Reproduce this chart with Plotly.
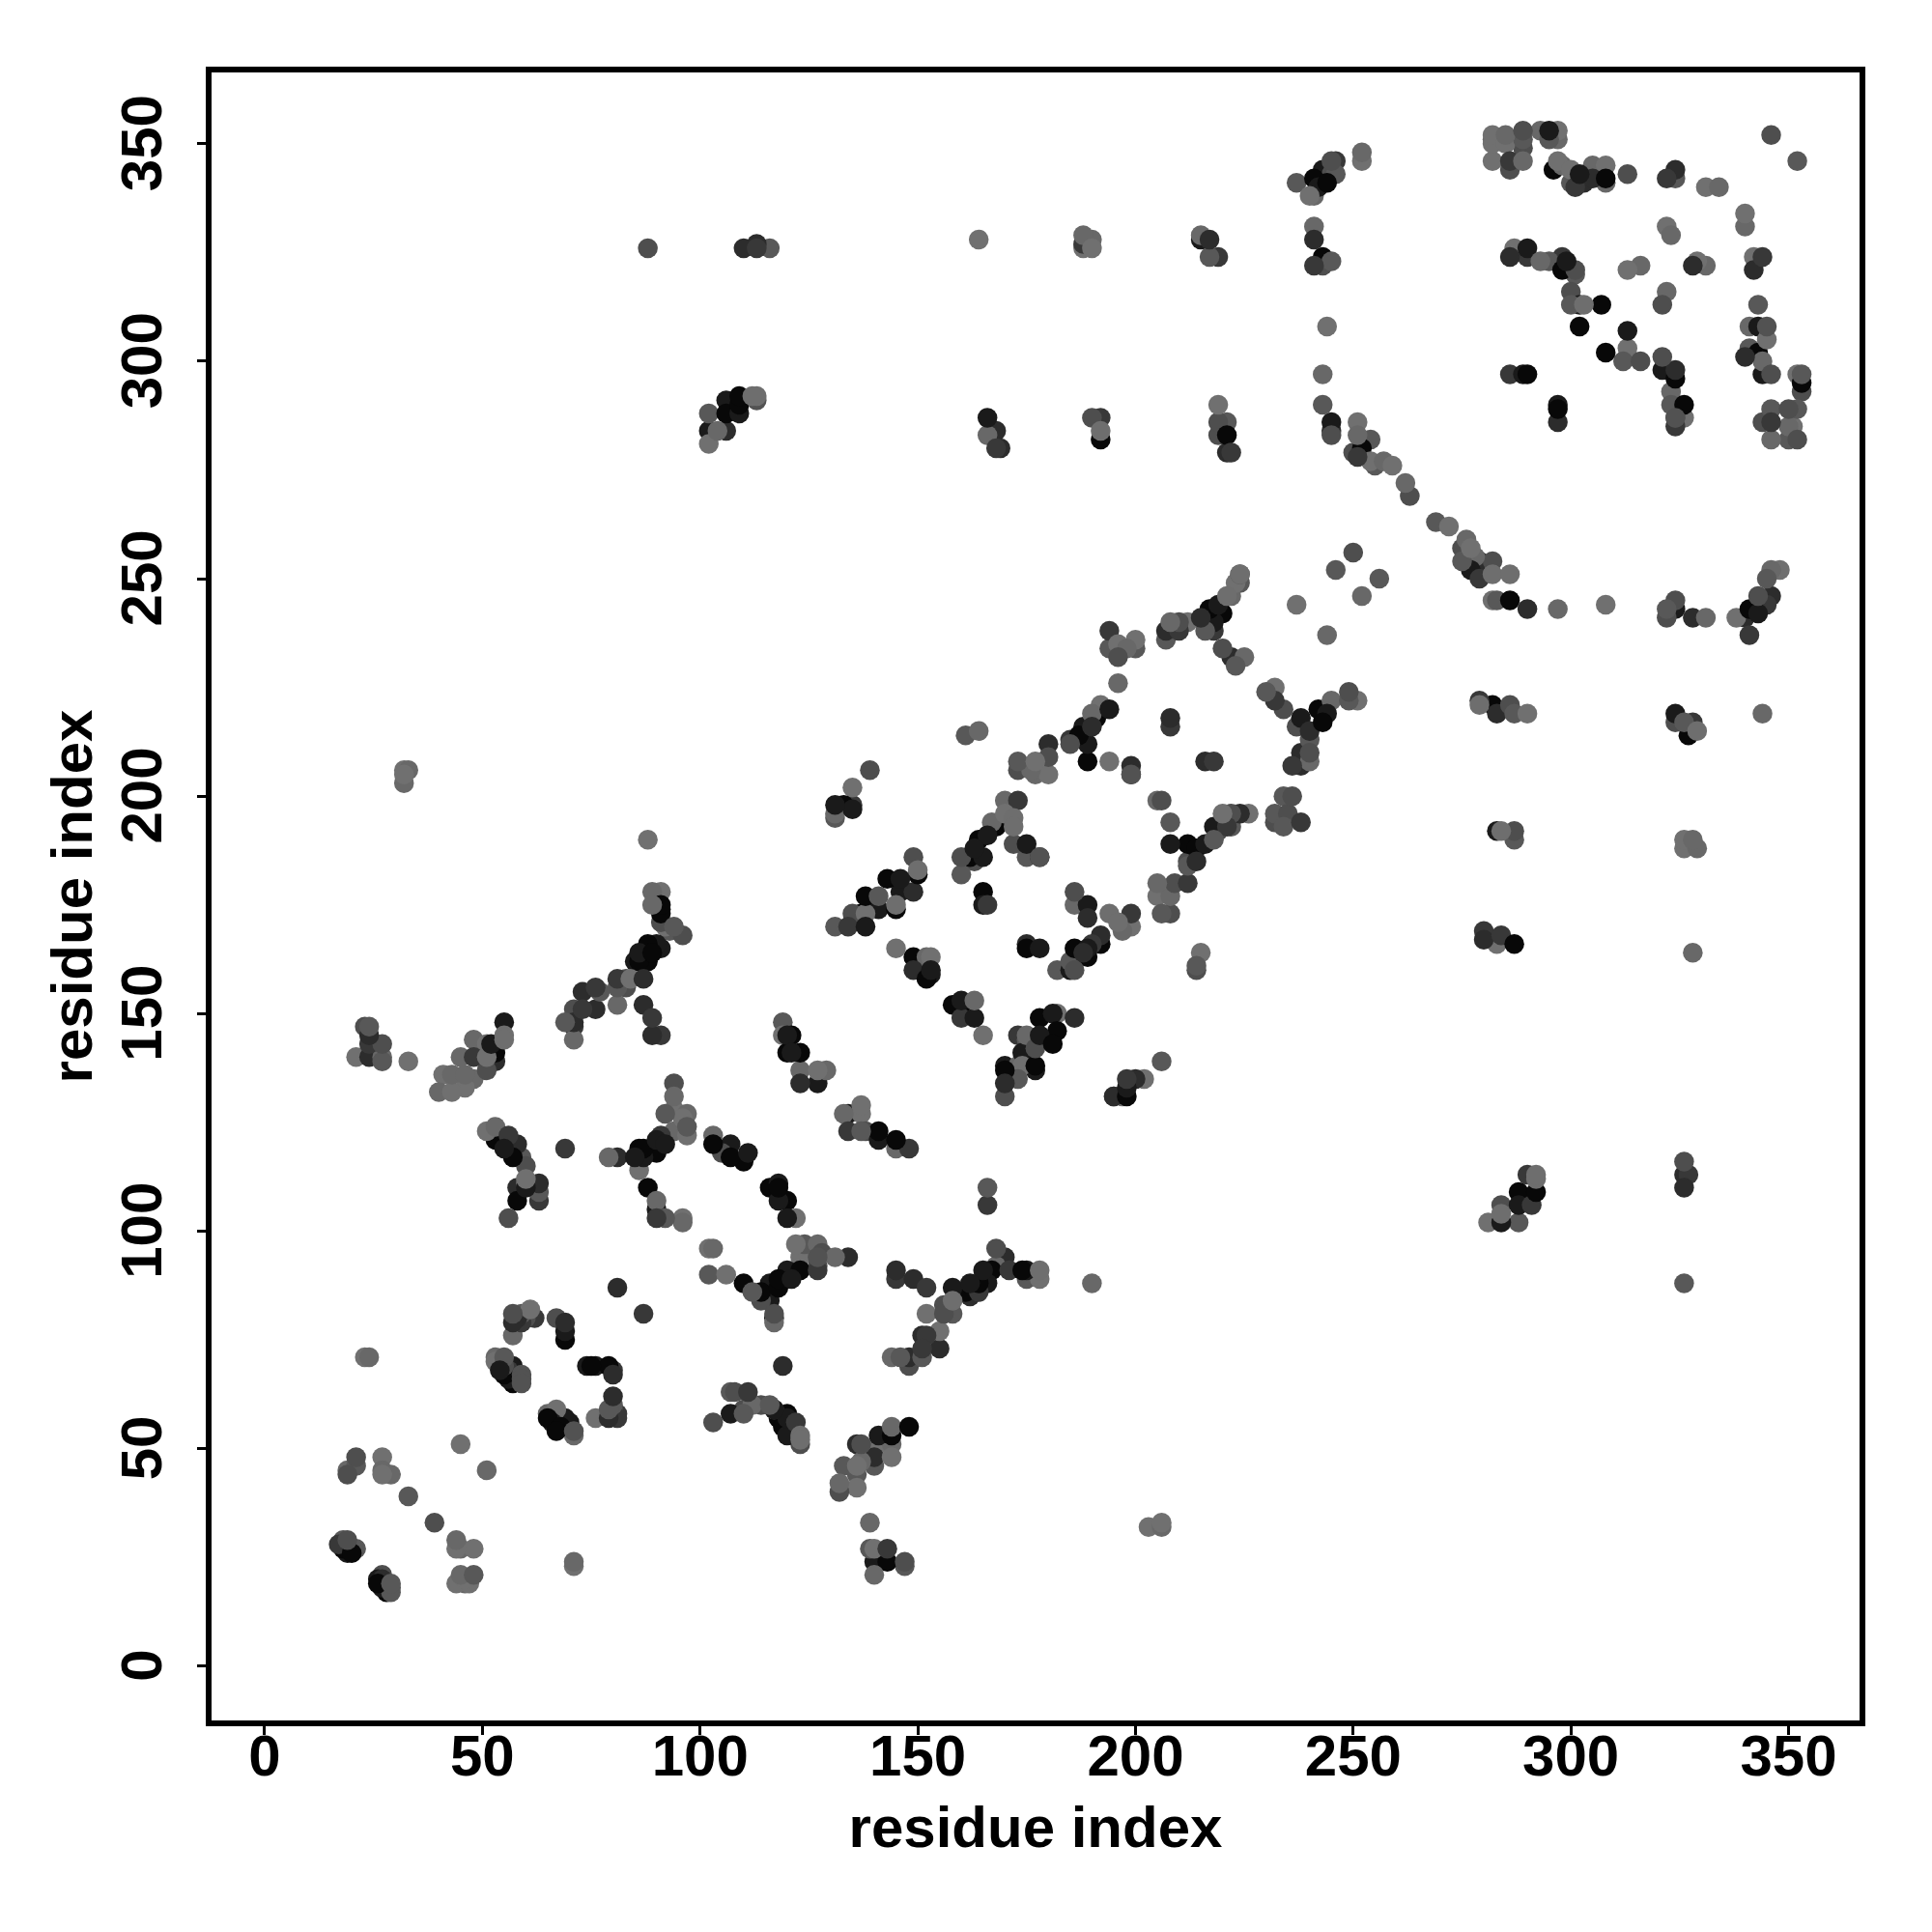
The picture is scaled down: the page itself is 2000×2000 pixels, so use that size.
import plotly.graph_objects as go

axis_title = "residue index"
tick_values = [0, 50, 100, 150, 200, 250, 300, 350]

light_contacts = [
(71,23),(71,24),(44,19),(45,21),(46,20),(46,19),(47,19),(44,29),(44,27),(45,27),(48,27),(51,45),(45,51),(19,45),(27,48),(27,45),(27,44),(29,44),(23,71),(24,71),(76,57),(57,76),(61,82),(53,71),(53,70),(65,58),(67,59),(71,53),(60,111),(90,107),(96,103),(96,102),(102,96),(103,96),(106,90),(112,60),
(32,206),(33,206),(32,205),(32,203),(88,190),(89,178),(91,178),(89,175),(92,170),(81,152),(84,158),(71,144),(21,140),(27,140),(33,139),(48,144),(51,143),(45,140),(51,140),(46,136),(41,136),(43,136),(46,133),(40,132),(43,132),(48,135),(51,123),(53,124),(60,112),(79,117),(86,114),(94,123),(97,122),(97,127),(94,128),(94,131),(96,126),(103,122),(119,145),
(123,137),(127,137),(129,137),(137,129),(133,127),(137,127),(145,119),(202,135),(197,131),(122,103),(117,79),(122,97),(127,97),(123,94),(131,94),(152,81),(144,71),(178,89),(190,88),(117,59),(144,55),(141,51),(144,51),(144,48),(137,47),(136,46),(132,42),(136,41),(139,33),(140,27),(140,21),(203,32),(206,32),(206,33),(173,138),(155,77),(168,92),
(135,202),(131,196),(138,173),(164,215),(177,208),(177,205),(180,205),(176,206),(196,235),(198,234),(200,236),(196,226),(192,221),(190,219),(194,208),(208,240),(212,240),(222,246),(223,249),(205,199),(220,196),(205,180),(205,177),(208,177),(215,164),(186,175),(199,170),(197,169),(145,165),(152,163),(153,163),(163,153),(165,145),(170,199),(170,196),(167,194),(182,150),(175,145),(174,138),
(252,348),(252,346),(241,338),(240,338),(241,331),(244,308),(243,297),(251,286),(251,283),(254,277),(257,277),(259,276),(262,272),(272,262),(276,259),(277,257),(278,255),(282,245),(297,243),(308,244),(331,241),(338,241),(346,252),(348,252),(252,246),(237,244),(244,237),(282,352),(282,351),(282,350),(285,352),(285,350),(293,353),(297,353),(297,351),(282,346),(289,346),(297,346),(298,345),(300,344),(305,345),(308,345),(308,341),(331,340),(334,340),(340,334),(340,331),(322,331),(323,329),(287,326),(293,323),(313,321),(316,322),(329,323),(331,322),(342,324),(322,316),(313,303),(323,293),(326,287),(341,308),(345,305),(344,300),(352,297),(346,282),(351,285),(350,285),
(290,219),(344,219),(326,190),(328,190),(326,188),(329,188),(283,166),(328,164),(232,225),(245,222),(251,222),(240,208),(226,196),(225,232),
(164,328),(188,329),(188,326),(190,328),(190,326),(215,329),(219,290),(166,283),(102,281),(104,284),(281,102),
]

mid_contacts = [
(21,46),(19,44),(18,29),(19,29),(21,27),(27,21),(29,19),(29,18),(29,17),(39,33),(33,39),(21,48),(48,21),(57,81),(59,81),(60,80),(55,71),(55,69),(79,59),(80,59),(80,60),(67,80),(63,109),(56,103),(92,103),(103,56),(110,58),(110,59),(107,63),(108,63),(102,90),
(91,171),(94,170),(96,168),(93,169),(83,158),(81,156),(83,156),(77,155),(71,151),(69,148),(27,143),(27,139),(51,137),(59,117),(60,115),(92,127),(105,118),(97,124),(94,134),(119,148),(23,147),(24,147),
(138,123),(137,123),(195,131),(173,135),(170,131),(206,139),(117,81),(124,97),(128,95),(112,86),(114,84),(166,110),(156,83),(158,81),(156,81),(151,71),(168,96),(175,89),(123,51),(116,60),(114,60),(133,46),(132,40),(139,27),(147,24),(147,23),(148,69),(146,71),(127,92),(136,44),(137,51),(140,46),
(139,206),(131,195),(149,186),(141,177),(135,173),(131,170),(180,209),(173,208),(173,206),(194,234),(196,232),(200,234),(185,212),(207,236),(210,240),(216,238),(220,234),(223,230),(206,199),(208,194),(219,192),(218,190),(222,196),(222,193),(212,185),(212,184),(209,180),(206,173),(208,173),(214,161),(186,178),(185,162),(186,160),(182,160),(172,189),(175,186),(160,186),(160,182),(163,185),(161,214),(177,142),(175,144),(214,160),
(237,341),(245,346),(246,343),(245,343),(245,323),(243,322),(243,290),(245,283),(254,282),(250,279),(255,276),(263,269),(269,263),(275,257),(275,254),(282,254),(283,245),(324,245),(322,243),(322,241),(246,252),(250,256),(256,250),(289,353),(289,351),(289,349),(295,351),(286,344),(300,341),(313,343),(324,342),(321,313),(343,313),(300,316),(300,313),(316,300),(312,300),(321,301),(323,290),(324,287),(341,303),(346,297),(353,297),(353,293),(346,289),(350,289),(352,289),(344,286),(350,282),(352,282),(345,250),(343,246),(295,323),(301,321),(301,320),(346,352),(352,346),
(286,221),(287,219),(287,192),(287,190),(324,217),(326,217),(234,220),(230,224),(249,224),(249,222),(237,216),(240,213),(240,210),(234,200),(236,200),(232,196),(235,196),(234,193),(232,194),(224,249),
(88,326),(116,326),(219,286),(221,286),(219,283),(217,324),(190,287),(102,288),
(284,106),(288,102),(326,116),(326,88),
]

dark_contacts = [
(17,28),(80,62),(81,58),(79,57),(81,57),(80,67),(80,68),(57,79),(59,79),(58,80),(62,80),(69,79),(56,68),(63,111),(63,107),(58,110),(90,103),(81,87),(87,81),(119,69),(111,63),(27,20),(28,19),
(87,158),(81,158),(87,152),(89,149),(89,145),(91,145),(73,155),(76,156),(76,151),(73,151),(71,148),(71,147),(24,145),(24,143),(24,140),(48,140),(53,139),(56,122),(58,120),(69,119),(81,117),(91,122),(123,134),
(134,123),(170,134),(198,135),(200,135),(166,106),(145,91),(145,89),(149,89),(152,87),(162,85),(164,86),(170,94),(171,91),(151,76),(152,76),(155,73),(151,73),(148,71),(122,56),(140,48),(143,27),(134,94),(127,91),(136,51),(148,119),(195,131),
(135,198),(149,178),(134,170),(180,212),(194,238),(190,216),(185,213),(199,207),(199,205),(208,218),(208,216),(216,208),(218,208),(207,238),(210,238),(215,241),(218,238),(222,232),(212,180),(214,185),(221,193),(189,172),(199,173),(192,168),(190,166),(188,164),(166,175),(175,166),(160,149),(149,160),(173,145),(178,186),(173,199),(186,149),
(246,346),(241,328),(241,322),(245,284),(251,278),(279,254),(279,250),(324,344),(322,342),(328,241),(341,237),(340,241),(345,244),(346,246),(286,346),(303,341),(301,340),(305,342),(290,324),(286,324),(298,324),(328,322),(344,324),(342,321),(313,301),(324,298),(324,285),(297,286),(286,297),(340,301),(346,286),(290,243),
(279,222),(283,219),(328,217),(238,210),(236,207),(238,207),(232,222),(240,215),(238,194),(224,196),(280,169),(280,167),(284,168),
(217,328),(219,324),(168,284),(168,280),(169,280),(222,279),(221,279),(192,287),(106,284),(188,327),(113,327),(113,326),(110,326),
(291,106),(326,113),(327,113),(326,110),(290,113),
]

black_contacts = [
(18,27),(19,26),(20,26),(26,20),(26,19),(27,18),(28,17),(74,69),(75,69),(76,69),(79,69),(69,77),(69,75),(54,68),(55,67),(57,69),(57,65),(56,66),(65,57),(66,56),(67,54),(69,57),(68,55),(70,56),(58,107),(60,110),(88,110),(90,105),(110,88),(107,58),
(91,175),(91,174),(91,173),(90,166),(88,166),(86,164),(86,162),(85,162),(88,162),(91,165),(89,164),(55,148),(53,141),(52,143),(53,121),(55,119),(57,117),(85,117),(87,119),(90,121),(86,119),(87,117),(90,118),(92,120),(103,120),(107,120),(107,117),(111,118),(110,116),(120,145),(120,141),
(127,134),(170,137),(177,137),(198,131),(198,133),(116,110),(118,111),(118,110),(118,107),(120,107),(120,103),(117,80),(120,91),(118,89),(116,88),(114,86),(116,84),(118,87),(121,89),(123,91),(158,87),(161,86),(162,88),(164,88),(165,91),(167,91),(166,88),(174,91),(175,91),(120,58),(120,57),(118,57),(117,59),(119,55),(120,53),(148,55),(141,53),(144,53),(140,24),(143,24),(134,127),(141,123),(141,121),(145,121),
(131,198),(133,198),(135,197),(150,182),(146,181),(143,181),(146,178),(138,177),(141,174),(137,173),(138,170),(145,174),(188,216),(191,218),(194,220),(187,214),(189,212),(189,208),(208,189),(212,189),(216,189),(214,188),(218,193),(217,243),(219,244),(216,241),(218,240),(220,242),(189,175),(192,166),(189,165),(186,165),(186,163),(189,163),(185,160),(175,165),(178,165),(165,178),(165,175),(149,163),(153,160),(152,158),(153,159),(158,152),(160,153),(160,152),(163,149),(121,145),(121,141),(123,141),(175,189),(168,193),(166,191),(164,190),(165,186),(162,186),(163,188),(178,149),(181,150),(182,146),(178,145),(181,143),(174,141),(177,138),(170,138),
(241,342),(243,344),(244,341),(242,340),(243,324),(245,286),(252,280),(277,252),(286,245),(324,243),(341,243),(343,242),(296,344),(302,343),(308,342),(290,326),(298,321),(299,323),(307,313),(302,313),(302,308),(313,307),(308,302),(321,298),(324,296),(324,290),(326,290),(297,290),(297,289),(289,297),(290,297),(343,308),(343,302),(344,297),(353,295),(295,353),
(282,221),(324,219),(327,214),(283,192),(287,166),(238,218),(242,220),(244,219),(243,217),
(215,328),(221,283),(166,287),(192,282),(102,284),(106,288),(106,291),(109,292),(109,288),(109,290),
(284,102),(288,109),(288,106),(292,109),
]

# contacts whose discs sit on top of the darker ones
top_mid_contacts = [
(59,67),(59,66),(59,65),(71,54),(113,291),(127,94),(178,186),(345,308),(224,251),(199,205),(324,287),
]
top_light_contacts = [
(55,145),(55,144),(150,183),(145,175),(123,53),(123,52),(158,84),(178,91),(284,192),(113,292),(112,292),(292,112),(292,113),(329,215),(279,221),(172,195),(172,193),(194,173),(196,171),(221,246),(224,251),(303,313),(282,251),(286,251),(192,284),(284,104),
]

shade_pairs = {"light": (112, 104), "mid": (88, 78), "dark": (56, 44), "black": (8, 26)}

mixed = []
for name, pts in [("light", light_contacts), ("mid", mid_contacts), ("dark", dark_contacts), ("black", black_contacts)]:
    for i, (x, y) in enumerate(pts):
        mixed.append((x, y, shade_pairs[name][i % 2]))
# overlap order in the picture is not sorted by darkness: mix the layers
mixed.sort(key=lambda p: (p[0] * 37 + p[1] * 17) % 11)
mixed += [(x, y, 82) for x, y in top_mid_contacts]
mixed += [(x, y, 110) for x, y in top_light_contacts]

fig = go.Figure(go.Scatter(
    x=[p[0] for p in mixed], y=[p[1] for p in mixed], mode="markers",
    marker=dict(size=20.5, color=[f"rgb({p[2]},{p[2]},{p[2]})" for p in mixed], line=dict(width=0)),
    showlegend=False, hoverinfo="skip"))

font = dict(family="Liberation Sans", color="black", size=60)
axis_common = dict(
    tickmode="array", tickvals=tick_values, ticks="outside", ticklen=9, tickwidth=3,
    tickcolor="black", showline=True, linecolor="black", linewidth=6, mirror=True,
    showgrid=False, zeroline=False, tickfont=dict(font, family="Liberation Sans", weight="bold"),
)
fig.update_layout(
    width=2000, height=2000, paper_bgcolor="white", plot_bgcolor="white",
    margin=dict(l=219, r=75, t=75, b=219, autoexpand=False),
    font=font,
    xaxis=dict(axis_common, range=[-12.2, 366.3], ticklabelstandoff=-30,
               title=dict(text=f"<b>{axis_title}</b>", standoff=22, font=dict(size=60, color="black"))),
    yaxis=dict(axis_common, range=[-12.5, 366.4], tickangle=-90, ticklabelstandoff=13,
               ticktext=[f"{v}\u00a0" for v in tick_values],
               title=dict(text=f"<b>{axis_title}</b>", standoff=0, font=dict(size=60, color="black"))),
)
fig.write_html("out.html", config={"displayModeBar": False},
               post_script="document.body.style.margin='0';")
